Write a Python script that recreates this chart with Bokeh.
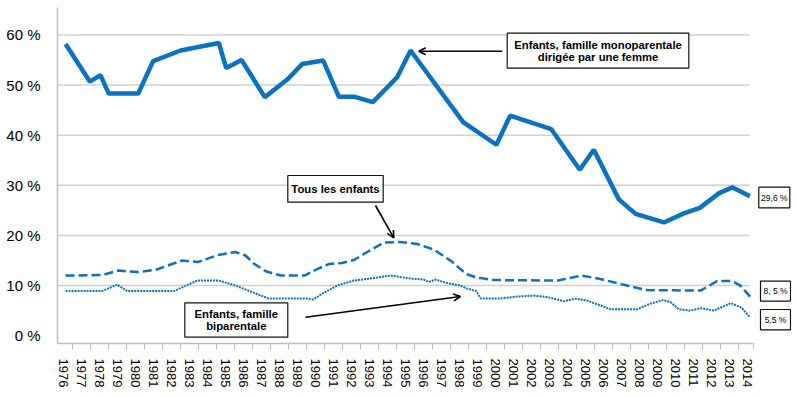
from bokeh.plotting import figure
from bokeh.models import Range1d, FixedTicker, Arrow, OpenHead
from bokeh.core.properties import value
from bokeh.embed import file_html
from bokeh.resources import INLINE

# ---------------- data ----------------
year_ticks = [1976, 1977, 1978, 1979, 1980, 1981, 1982, 1983, 1984, 1985, 1986, 1987,
              1988, 1989, 1990, 1991, 1992, 1993, 1994, 1995, 1996, 1997, 1998, 1999,
              2000, 2001, 2002, 2003, 2004, 2005, 2006, 2007, 2008, 2009, 2010, 2011,
              2012, 2013, 2014]
year_labels = ["1976", "1977", "1978", "1979", "1980", "1981", "1982", "1983", "1984",
               "1985", "1986", "1987", "1988", "1989", "1990", "1991", "1992", "1993",
               "1994", "1995", "1996", "1997", "1998", "1999", "2000", "2001", "2002",
               "2003", "2004", "2005", "2006", "2007", "2008", "2009", "2010", "2011",
               "2012", "2013", "2014"]
pct_ticks = [0, 10, 20, 30, 40, 50, 60]
pct_labels = ["0 %", "10 %", "20 %", "30 %", "40 %", "50 %", "60 %"]

# Enfants, famille monoparentale dirigée par une femme
mono_x = [1976.14, 1977.49, 1978.08, 1978.54, 1980.18, 1981.01, 1982.53, 1984.66, 1985.07,
          1985.92, 1987.21, 1988.46, 1989.29, 1990.46, 1991.32, 1992.16, 1993.21, 1994.57,
          1995.31, 1998.23, 2000.08, 2000.84, 2003.13, 2004.71, 2005.49, 2006.88, 2007.81,
          2009.38, 2010.49, 2011.38, 2012.43, 2013.18, 2014.16]
mono_y = [58.2, 50.7, 52.0, 48.3, 48.3, 54.8, 56.9, 58.4, 53.4,
          55.0, 47.6, 51.1, 54.2, 54.9, 47.7, 47.7, 46.6, 51.6,
          56.9, 42.6, 38.1, 43.9, 41.2, 33.1, 37.1, 27.2, 24.3,
          22.6, 24.4, 25.5, 28.4, 29.6, 27.8]

# Tous les enfants
tous_x = [1976.14, 1978.18, 1979.05, 1980.16, 1981.2, 1982.62, 1983.5, 1984.6, 1985.58,
          1986.14, 1986.6, 1987.3, 1988.12, 1989.42, 1990.12, 1990.77, 1991.5, 1992.16,
          1992.95, 1993.82, 1994.7, 1995.68, 1996.6, 1997.6, 1998.4, 1998.9, 1999.93,
          2003.5, 2004.8, 2005.86, 2007.34, 2008.45, 2011.42, 2012.34, 2013.18, 2013.64,
          2014.19]
tous_y = [12.0, 12.1, 13.0, 12.7, 13.2, 15.0, 14.7, 16.1, 16.7,
          16.0, 14.4, 12.8, 12.0, 12.0, 13.3, 14.3, 14.5, 15.1,
          16.8, 18.6, 18.7, 18.3, 17.2, 14.8, 12.3, 11.7, 11.1,
          11.0, 12.0, 11.3, 10.0, 9.1, 9.0, 10.9, 10.9, 10.0,
          7.7]

# Enfants, famille biparentale
bi_x = [1976.14, 1978.18, 1979.01, 1979.57, 1982.16, 1983.46, 1984.66, 1985.58, 1987.43,
        1989.5, 1989.9, 1990.31, 1991.23, 1992.16, 1993.27, 1994.19, 1995.31, 1996.04,
        1996.32, 1996.69, 1997.34, 1998.08, 1998.46, 1998.95, 1999.22, 2000.2, 2001.2,
        2002.16, 2002.9, 2003.82, 2004.5, 2005.12, 2006.42, 2007.9, 2008.64, 2009.33,
        2009.75, 2010.2, 2010.86, 2011.42, 2012.16, 2013.1, 2013.7, 2014.13]
bi_y = [8.9, 8.9, 10.2, 8.9, 8.9, 11.0, 11.0, 10.0, 7.4,
        7.4, 7.2, 8.2, 10.0, 11.0, 11.5, 12.0, 11.4, 11.2,
        10.7, 11.2, 10.5, 10.0, 9.4, 8.9, 7.4, 7.4, 7.8,
        8.0, 7.7, 6.9, 7.4, 7.0, 5.3, 5.3, 6.4, 7.1,
        6.7, 5.3, 5.0, 5.5, 5.0, 6.5, 5.6, 3.8]

end_labels = ["29,6 %", "8, 5 %", "5,5 %"]
note_mono = ["Enfants, famille monoparentale", "dirigée par une femme"]
note_tous = ["Tous les enfants"]
note_bi = ["Enfants, famille", "biparentale"]

# ---------------- layout helpers (page pixels -> data units) ----------------
PX_X0, PX_PER_YEAR = 62.5, 18.0     # pixel of 1976, pixels per year
PX_Y0, PX_PER_PCT = 335.2, 5.012    # pixel of 0 %, pixels per percent
FRAME_L, FRAME_T, FRAME_W, FRAME_H = 57, 7, 734, 336


def dx(px):
    return 1976 + (px - PX_X0) / PX_PER_YEAR


def dy(py):
    return (PX_Y0 - py) / PX_PER_PCT


x_start = dx(FRAME_L)
x_end = dx(FRAME_L + FRAME_W)
y_end = dy(FRAME_T)
y_start = y_end - FRAME_H / PX_PER_PCT

BLUE = "#0b71c1"
SANS = "Liberation Sans"

p = figure(frame_width=FRAME_W, frame_height=FRAME_H,
           x_range=Range1d(x_start, x_end), y_range=Range1d(y_start, y_end),
           output_backend="svg", toolbar_location=None,
           min_border_left=FRAME_L, min_border_right=5, min_border_top=FRAME_T,
           min_border_bottom=54)
p.outline_line_color = None
p.background_fill_color = "white"
p.border_fill_color = "white"

axis_end = dx(753.3)

# x axis
xa = p.xaxis[0]
xa.bounds = (x_start, axis_end)
xa.ticker = FixedTicker(ticks=year_ticks,
                        minor_ticks=[t + 0.5 for t in year_ticks[:-1]] + [axis_end])
xa.major_label_overrides = {t: l for t, l in zip(year_ticks, year_labels)}
xa.major_label_orientation = "vertical"
xa.major_tick_line_color = None
xa.major_tick_out = 0
xa.major_tick_in = 0
xa.minor_tick_out = 6
xa.minor_tick_in = 0
xa.minor_tick_line_color = "#bdbdbd"
xa.minor_tick_line_width = 1
xa.axis_line_color = "#bdbdbd"
xa.axis_line_width = 1.5
xa.major_label_standoff = 9
xa.major_label_text_font = SANS
xa.major_label_text_font_size = "13px"
xa.major_label_text_color = "black"

# y axis
ya = p.yaxis[0]
ya.ticker = FixedTicker(ticks=pct_ticks)
ya.major_label_overrides = {t: l for t, l in zip(pct_ticks, pct_labels)}
ya.major_tick_line_color = None
ya.major_tick_out = 0
ya.major_tick_in = 0
ya.minor_tick_line_color = None
ya.axis_line_color = "#bdbdbd"
ya.axis_line_width = 1.5
ya.major_label_standoff = 17
ya.major_label_text_font = SANS
ya.major_label_text_font_size = "15px"
ya.major_label_text_color = "black"

p.xgrid.grid_line_color = None
p.ygrid.grid_line_color = None

# horizontal gridlines (stop at the end of the plot area, not under the end labels)
grid_vals = pct_ticks[1:]
p.segment(x0=[x_start] * len(grid_vals), x1=[dx(749.3)] * len(grid_vals),
          y0=grid_vals, y1=grid_vals, line_color="#d0d0d0", line_width=1.5)

# series
p.line(bi_x, bi_y, line_color=BLUE, line_width=2, line_dash="2 1")
p.line(tous_x, tous_y, line_color=BLUE, line_width=2.5, line_dash="9 4")
p.line(mono_x, mono_y, line_color=BLUE, line_width=4.5)

# annotation boxes (page pixel boxes: left, right, top, bottom)
boxes = [(506.7, 688.3, 32.7, 67.7),
         (287.3, 382.7, 175.0, 201.7),
         (184.3, 287.3, 302.3, 336.7),
         (758.3, 789.3, 186.7, 207.3),
         (760.0, 790.0, 280.7, 300.7),
         (760.0, 790.0, 309.0, 329.3)]
p.quad(left=[dx(b[0]) for b in boxes], right=[dx(b[1]) for b in boxes],
       top=[dy(b[2]) for b in boxes], bottom=[dy(b[3]) for b in boxes],
       fill_color="white", line_color="#111111", line_width=1.2)

# bold notes
note_text = note_mono + note_tous + note_bi
note_px = [(597.5, 44.6), (597.5, 56.6), (335.0, 188.6), (235.8, 313.6), (235.8, 325.6)]
p.text(x=[dx(a) for a, b in note_px], y=[dy(b) for a, b in note_px], text=note_text,
       text_align="center", text_baseline="middle", text_font=value(SANS),
       text_font_size="11.3px", text_font_style="bold", text_color="black")

# end-of-series labels
end_px = [(773.8, 197.2), (775.0, 290.9), (775.0, 319.4)]
p.text(x=[dx(a) for a, b in end_px], y=[dy(b) for a, b in end_px], text=end_labels,
       text_align="center", text_baseline="middle", text_font=value(SANS),
       text_font_size="8.5px", text_color="black")

# arrows
for (x0, y0, x1, y1) in [(501.7, 50.7, 418.3, 50.7),
                         (375.0, 205.0, 393.3, 237.3),
                         (305.0, 316.7, 460.0, 296.0)]:
    p.add_layout(Arrow(end=OpenHead(size=7, line_width=1.6, line_color="black"),
                       x_start=dx(x0), y_start=dy(y0), x_end=dx(x1), y_end=dy(y1),
                       line_width=1.6, line_color="black"))

open("out.html", "w").write(file_html(p, INLINE))
